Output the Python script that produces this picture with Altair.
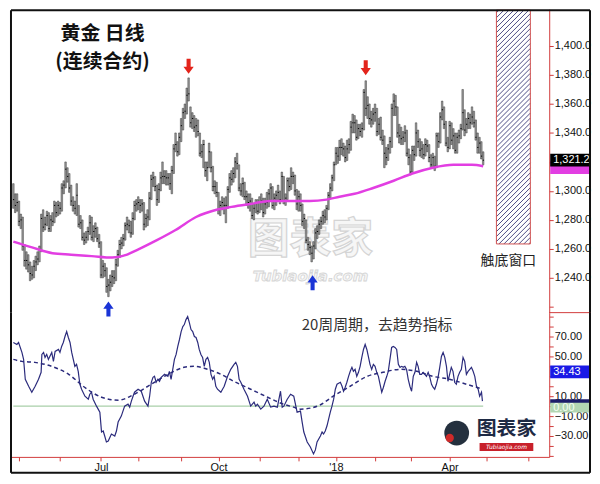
import altair as alt
import pandas as pd

# ---------------- data ----------------
# daily bars, Apr 26 2017 .. Apr 26 2018 (index = trading day)
close = [
    1294, 1290, 1292,
    1279, 1280, 1262, 1252, 1252, 1249, 1243, 1242, 1248, 1251, 1253, 1259, 1281, 1275, 1277, 1283, 1274, 1280, 1279, 1290, 1285, 1290,
    1288, 1302, 1304, 1315, 1310, 1302, 1293, 1290, 1288, 1297, 1277, 1278, 1268, 1266, 1268, 1272, 1278, 1268, 1272, 1274, 1267, 1264,
    1242, 1248, 1245, 1234, 1235, 1237, 1241, 1240, 1249, 1256, 1263, 1264, 1267, 1276, 1277, 1276, 1271, 1281, 1290, 1291,
    1292, 1290, 1291, 1277, 1281, 1282, 1295, 1308, 1309, 1303, 1294, 1301, 1309, 1310, 1310, 1309, 1309, 1305, 1314, 1329, 1332, 1327, 1337,
    1345, 1354, 1355, 1366, 1367, 1347, 1350, 1344, 1345, 1341, 1326, 1327, 1332, 1314, 1316, 1327, 1316, 1303, 1303, 1299,
    1287, 1290, 1292, 1290, 1290, 1301, 1309, 1308, 1312, 1320, 1319, 1302, 1300, 1305, 1296, 1296, 1292, 1293, 1283, 1288, 1292, 1286,
    1292, 1293, 1285, 1291, 1292, 1298, 1302, 1290, 1295, 1297, 1299, 1294, 1310, 1293, 1295, 1307, 1303, 1310, 1310, 1300, 1291,
    1296, 1290, 1279, 1281, 1266, 1263, 1261, 1257, 1262, 1271, 1272, 1277, 1279, 1283, 1282, 1288, 1297, 1302, 1309, 1318,
    1326, 1324, 1330, 1330, 1329, 1323, 1329, 1332, 1344, 1347, 1347, 1337, 1343, 1341, 1343, 1368, 1357, 1359, 1350, 1349, 1353,
    1354, 1341, 1346, 1337, 1335, 1326, 1323, 1329, 1334, 1357, 1362, 1358, 1340, 1338, 1336, 1337, 1340, 1326, 1323,
    1313, 1328, 1325, 1340, 1334, 1328, 1329, 1325, 1332, 1331, 1323, 1318, 1323, 1317, 1338, 1334, 1351, 1356, 1346, 1333, 1330,
    1345, 1335, 1338, 1328, 1337, 1338, 1343, 1354, 1342, 1346, 1350, 1347, 1351, 1347, 1337, 1330, 1333, 1324, 1321.2,
]
high = [
    1305, 1298, 1298,
    1293, 1284, 1282, 1263, 1258, 1256, 1251, 1248, 1252, 1255, 1258, 1262, 1284, 1287, 1282, 1286, 1285, 1283, 1285, 1293, 1292, 1293,
    1292, 1305, 1307, 1320, 1316, 1312, 1304, 1296, 1293, 1305, 1290, 1283, 1280, 1271, 1272, 1275, 1283, 1282, 1276, 1278, 1275, 1270,
    1265, 1252, 1250, 1247, 1239, 1242, 1245, 1245, 1253, 1259, 1266, 1268, 1270, 1278, 1282, 1280, 1279, 1285, 1293, 1294,
    1296, 1294, 1294, 1292, 1284, 1287, 1299, 1311, 1313, 1310, 1304, 1305, 1313, 1320, 1314, 1314, 1312, 1312, 1317, 1332, 1340, 1334, 1340,
    1350, 1357, 1360, 1371, 1378, 1358, 1354, 1352, 1350, 1349, 1340, 1332, 1335, 1320, 1320, 1333, 1327, 1317, 1307, 1306,
    1299, 1293, 1296, 1295, 1296, 1303, 1312, 1314, 1316, 1323, 1326, 1318, 1305, 1309, 1306, 1300, 1298, 1298, 1295, 1291, 1294, 1294,
    1296, 1298, 1295, 1295, 1299, 1301, 1305, 1303, 1298, 1300, 1304, 1300, 1313, 1310, 1298, 1309, 1309, 1316, 1313, 1311, 1301,
    1300, 1298, 1291, 1284, 1280, 1268, 1265, 1262, 1265, 1274, 1276, 1280, 1282, 1286, 1287, 1290, 1299, 1305, 1311, 1320,
    1330, 1330, 1335, 1336, 1333, 1331, 1335, 1336, 1348, 1353, 1352, 1349, 1346, 1346, 1347, 1370, 1376, 1365, 1360, 1355, 1357,
    1360, 1357, 1350, 1351, 1342, 1338, 1330, 1332, 1337, 1360, 1367, 1366, 1358, 1346, 1344, 1341, 1345, 1342, 1329,
    1325, 1331, 1331, 1347, 1342, 1336, 1334, 1332, 1336, 1335, 1332, 1325, 1326, 1324, 1340, 1340, 1354, 1362, 1358, 1348, 1337,
    1348, 1347, 1343, 1340, 1340, 1342, 1346, 1370, 1356, 1350, 1354, 1353, 1358, 1355, 1349, 1340, 1337, 1334, 1327,
]
low = [
    1288, 1285, 1286,
    1276, 1274, 1259, 1248, 1246, 1244, 1238, 1239, 1240, 1245, 1249, 1251, 1258, 1272, 1273, 1276, 1272, 1272, 1276, 1278, 1282, 1283,
    1284, 1286, 1298, 1302, 1306, 1299, 1290, 1286, 1284, 1283, 1275, 1274, 1266, 1263, 1264, 1266, 1270, 1266, 1265, 1268, 1265, 1261,
    1240, 1240, 1241, 1230, 1227, 1231, 1234, 1236, 1238, 1248, 1254, 1260, 1262, 1266, 1273, 1271, 1268, 1270, 1280, 1286,
    1287, 1285, 1286, 1273, 1275, 1276, 1280, 1294, 1303, 1300, 1290, 1292, 1300, 1305, 1305, 1304, 1304, 1301, 1298, 1312, 1327, 1324, 1325,
    1334, 1342, 1350, 1353, 1362, 1344, 1343, 1341, 1337, 1338, 1324, 1323, 1316, 1310, 1307, 1316, 1313, 1300, 1298, 1296,
    1284, 1283, 1287, 1284, 1278, 1288, 1299, 1304, 1306, 1309, 1315, 1300, 1297, 1296, 1294, 1290, 1288, 1286, 1281, 1280, 1285, 1284,
    1285, 1287, 1282, 1284, 1288, 1289, 1294, 1288, 1287, 1290, 1293, 1291, 1293, 1291, 1290, 1294, 1300, 1301, 1305, 1297, 1287,
    1286, 1286, 1276, 1274, 1264, 1259, 1256, 1251, 1253, 1260, 1267, 1270, 1274, 1277, 1278, 1280, 1287, 1295, 1300, 1307,
    1318, 1319, 1321, 1325, 1324, 1320, 1321, 1326, 1328, 1340, 1340, 1335, 1336, 1338, 1337, 1342, 1352, 1350, 1346, 1344, 1346,
    1348, 1338, 1339, 1335, 1332, 1316, 1318, 1321, 1326, 1330, 1352, 1352, 1337, 1333, 1332, 1332, 1334, 1324, 1318,
    1311, 1313, 1321, 1324, 1330, 1324, 1323, 1322, 1324, 1327, 1320, 1316, 1316, 1314, 1316, 1330, 1333, 1349, 1343, 1331, 1327,
    1329, 1332, 1329, 1326, 1326, 1333, 1336, 1342, 1338, 1340, 1343, 1343, 1346, 1344, 1335, 1326, 1326, 1322, 1318,
]
assert len(close) == len(high) == len(low) == 253

# magenta moving average (trading-day index, value)
ma_pts = [(0, 1265), (10, 1261), (21, 1257), (31, 1256), (42, 1255), (53, 1254), (61, 1256), (66, 1259),
          (77, 1266), (87, 1273), (98, 1282), (109, 1287), (117, 1289), (127, 1291), (138, 1293), (149, 1293),
          (159, 1293), (168, 1294), (175, 1296), (183, 1298), (193, 1302), (204, 1307), (214, 1312), (225, 1316),
          (236, 1318), (246, 1318), (252, 1317)]

# 20-week cycle detrended oscillator (solid)
osc_pts = [
    (0, 64), (1.9, 62), (2.8, 64), (4.6, 54), (5.5, 47), (6.4, 27), (8.2, 20), (9.9, 14), (11.7, 20), (13.5, 27),
    (14.9, 34), (15.3, 52), (16.2, 54), (17.0, 49), (17.9, 52), (18.8, 47), (20.6, 54), (21.5, 45), (22.4, 55), (24.2, 57),
    (25.0, 54), (25.9, 60), (26.8, 64), (27.7, 70), (28.6, 75), (29.5, 69), (30.4, 64), (31.3, 54), (33.0, 40), (33.9, 42),
    (34.8, 35), (35.7, 22), (36.6, 17), (38.4, 10), (40.2, 7), (41.0, 12), (41.9, 14), (42.8, 7), (44.6, 0), (45.5, -3),
    (46.4, -6), (47.3, -26), (48.2, -25), (49.0, -30), (49.9, -36), (50.9, -35), (52.6, -28), (54.4, -30), (55.3, -25), (56.2, -16),
    (57.9, -10), (59.7, 0), (61.5, 2), (62.4, -1), (63.3, 5), (64.2, 10), (65.0, 14), (66.9, 17), (68.6, 15), (70.4, 5),
    (72.2, 0), (73.1, 10), (74.0, 24), (74.9, 29), (75.7, 30), (76.6, 24), (77.5, 27), (78.4, 25), (79.3, 29), (81.1, 32),
    (82.9, 30), (83.7, 35), (84.6, 27), (85.5, 37), (86.4, 47), (87.3, 52), (88.2, 60), (89.1, 67), (90.0, 75), (90.9, 80),
    (91.7, 82), (92.6, 87), (93.5, 90), (94.4, 84), (95.3, 77), (96.2, 75), (97.1, 70), (98.0, 69), (98.9, 64), (99.7, 57),
    (100.6, 52), (101.5, 49), (102.4, 40), (103.3, 47), (104.2, 49), (105.1, 44), (106.0, 32), (106.9, 27), (107.7, 30), (108.6, 20),
    (109.5, 17), (111.3, 14), (112.2, 17), (113.1, 20), (114.9, 30), (116.6, 37), (118.4, 42), (119.3, 44), (120.2, 40), (121.1, 27),
    (122.0, 24), (123.7, 17), (125.6, 10), (127.3, 0), (129.1, 4), (130.0, 0), (130.9, 2), (132.7, -3), (134.4, 0), (136.2, 7),
    (138.0, -1), (139.8, 0), (141.6, -1), (143.3, 15), (144.2, -1), (145.1, 0), (146.9, 7), (148.7, 12), (150.4, 10), (152.2, -6),
    (154.0, -5), (154.9, -16), (155.8, -26), (157.6, -36), (159.3, -41), (161.0, -48), (162.0, -44), (162.9, -36), (164.7, -30), (165.6, -26),
    (166.4, -28), (167.3, -25), (168.2, -20), (169.1, -13), (170.0, -6), (170.9, 0), (171.8, 7), (172.7, 17), (173.6, 22), (175.4, 24),
    (176.3, 20), (177.1, 15), (178.0, 19), (178.9, 24), (179.8, 30), (180.7, 35), (181.6, 39), (182.4, 35), (183.3, 37), (184.2, 30),
    (185.1, 34), (186.0, 40), (186.9, 49), (187.8, 57), (188.7, 62), (189.6, 57), (190.4, 50), (191.3, 42), (192.2, 37), (193.1, 42),
    (194.0, 40), (194.9, 34), (195.8, 30), (196.7, 22), (197.6, 14), (198.5, 19), (199.4, 25), (200.3, 30), (201.1, 35), (202.0, 47),
    (202.9, 59), (203.8, 60), (204.7, 59), (205.6, 57), (206.5, 42), (207.4, 39), (208.3, 40), (209.1, 39), (210.0, 40), (210.9, 37),
    (211.8, 27), (212.7, 20), (213.6, 15), (214.5, 30), (215.4, 34), (216.3, 44), (217.1, 40), (218.0, 32), (218.9, 32), (219.8, 34),
    (220.7, 32), (221.6, 30), (222.5, 34), (223.4, 29), (224.3, 22), (225.1, 19), (226.0, 17), (226.9, 22), (227.8, 29), (228.7, 39),
    (229.6, 50), (230.5, 54), (231.4, 49), (232.3, 40), (233.1, 25), (234.0, 32), (234.9, 39), (235.8, 35), (236.7, 24), (237.6, 22),
    (238.5, 30), (239.4, 34), (240.3, 37), (241.2, 49), (242.1, 45), (243.0, 32), (243.9, 35), (244.8, 37), (245.7, 39), (246.6, 35),
    (247.5, 30), (248.4, 20), (249.3, 17), (250.1, 10), (251.1, 14), (251.6, 5),
]
# dashed smoothed cycle line
sig_pts = [(0, 47), (4.6, 45), (11.5, 44), (20.6, 40), (29.7, 32), (38.2, 19), (47.3, 9), (56.4, 6), (64.9, 12),
           (73.9, 22), (83.0, 32), (91.6, 39), (96.9, 40), (104.4, 37), (111.3, 32), (118.2, 25), (127.3, 17),
           (136.4, 9), (144.9, 2), (150.3, -1), (154.0, -3), (163.1, 0), (171.6, 10), (180.7, 20), (189.8, 30),
           (198.3, 34), (207.4, 37), (216.4, 35), (225.0, 30), (234.0, 27), (243.1, 22), (248.4, 19), (251.6, 17)]

month_ticks = [3, 25, 47, 67, 90, 110, 132, 153, 173, 194, 213, 234, 254, 276]
month_names = {47: "Jul", 110: "Oct", 173: "'18", 234: "Apr"}
price_ticks = [1220, 1240, 1260, 1280, 1300, 1320, 1340, 1360, 1380, 1400]
price_labeled = [1240, 1260, 1280, 1300, 1340, 1360, 1380, 1400]
osc_ticks = [-50, -40, -30, -20, -10, 0, 10, 20, 30, 40, 50, 60, 70, 80, 90]
osc_labeled = [70, 50, 10, -10, -30]

window_i = (259.1, 277.3)        # "触底窗口" time window (future trading days)
window_p = (1263.4, 1424.7)
red_arrows = [(94, 1386), (189, 1385)]
blue_arrows = [(51, 1218.5), (160.5, 1236.6)]
last_close = 1321.2
last_ma = 1316.0
osc_box_value = 34.43
osc_last = 4.5
zero_box = -1.5

# ---------------- layout / style ----------------
W, H1, H2 = 542, 305, 145
PX_I = 1.874
XDOM = [-1.8, -1.8 + W / PX_I]
YDOM1 = [1216.0, 1425.4]
YDOM2 = [-51.0, 94.0]
RED = "#d23c3c"
MAGENTA = "#e23ee2"
NAVY = "#2b2b7c"
CJK = "Noto Sans CJK SC"
AXF = "Liberation Sans"

xs = alt.Scale(domain=XDOM, nice=False, zero=False)
ys1 = alt.Scale(domain=YDOM1, nice=False, zero=False)
ys2 = alt.Scale(domain=YDOM2, nice=False, zero=False)

axis_style = dict(domainColor=RED, tickColor=RED, tickSize=4, labelPadding=1, labelColor="#111",
                  labelFont=AXF, labelFontSize=11, grid=False, title=None, labelOverlap=False)

yax1 = alt.Axis(orient="right", values=price_ticks,
                labelExpr="indexof(" + str(price_labeled) + ", datum.value) >= 0 ? format(datum.value, ',.1f') : ''",
                **axis_style)
yax2 = alt.Axis(orient="right", values=osc_ticks,
                labelExpr="indexof(" + str(osc_labeled) + ", datum.value) >= 0 ? format(datum.value, '.2f') : ''",
                **axis_style)
xexpr = ""
for k, v in month_names.items():
    xexpr += "datum.value == %d ? \"%s\" : " % (k, v)
xexpr += "''"
xax = alt.Axis(orient="bottom", values=month_ticks, labelExpr=xexpr, labelFlush=False, **axis_style)

# every layer of a panel carries the same scale and axis definitions
X1 = lambda f: alt.X(f, scale=xs, axis=None)
Y1 = lambda f: alt.Y(f, scale=ys1, axis=yax1)
X2 = lambda f: alt.X(f, scale=xs, axis=xax)
Y2 = lambda f: alt.Y(f, scale=ys2, axis=yax2)


def txt(s, x, y, **kw):
    return alt.Chart(pd.DataFrame({"t": [s]})).mark_text(**kw).encode(
        x=alt.value(x), y=alt.value(y), text="t:N")


def rule_px(x, x2, y, y2, **kw):
    return alt.Chart(pd.DataFrame({"a": [0]})).mark_rule(**kw).encode(
        x=alt.value(x), x2=alt.value(x2), y=alt.value(y), y2=alt.value(y2))


# ---------------- top panel ----------------
bars = pd.DataFrame({"i": list(range(len(close))), "hi": high, "lo": low, "cl": close})
ma_df = pd.DataFrame(ma_pts, columns=["i", "v"])

px_p = H1 / (YDOM1[1] - YDOM1[0])
w_px = (window_i[1] - window_i[0]) * PX_I
h_px = (window_p[1] - window_p[0]) * px_p
hatch = []
c = -h_px + 2.5
while c < w_px:
    x0, x1 = max(0.0, c), min(w_px, c + h_px)
    hatch.append({"a": window_i[0] + x0 / PX_I, "b": window_p[0] + (x0 - c) / px_p,
                  "a2": window_i[0] + x1 / PX_I, "b2": window_p[0] + (x1 - c) / px_p})
    c += 5.0
hatch_df = pd.DataFrame(hatch)
win_df = pd.DataFrame({"a": [window_i[0]], "a2": [window_i[1]], "b": [window_p[0]], "b2": [window_p[1]]})

wm1 = txt("图表家", 302, 232, font=CJK, fontSize=42, fontWeight="bold", fill="#f6f6f6", stroke="#d4d4d4", strokeWidth=1.2)
wm2 = txt("Tubiaojia.com", 302, 268, font="DejaVu Sans", fontSize=15, fontWeight="bold", fontStyle="italic",
          fill="#f6f6f6", stroke="#d4d4d4", strokeWidth=0.8)

win_fill = alt.Chart(win_df).mark_rect(fill="white").encode(x=X1("a:Q"), x2="a2:Q", y=Y1("b:Q"), y2="b2:Q")
hatch_l = alt.Chart(hatch_df).mark_rule(color="#3a3a78", strokeWidth=0.9).encode(
    x=X1("a:Q"), x2="a2:Q", y=Y1("b:Q"), y2="b2:Q")
win_border = alt.Chart(win_df).mark_rect(fillOpacity=0, stroke="#d05050", strokeWidth=1).encode(
    x=X1("a:Q"), x2="a2:Q", y=Y1("b:Q"), y2="b2:Q")

ohlc = alt.Chart(bars).transform_calculate(i0="datum.i - 0.42", i1="datum.i + 0.42").mark_rect(
    fill="#9c9c9c", stroke="#2e2e2e", strokeWidth=0.45).encode(
    x=X1("i0:Q"), x2="i1:Q", y=Y1("lo:Q"), y2="hi:Q")
ctick = alt.Chart(bars).transform_calculate(i0="datum.i - 0.2", i2="datum.i + 0.45").mark_rule(
    color="#000", strokeWidth=1).encode(x=X1("i0:Q"), x2="i2:Q", y=Y1("cl:Q"))
ma_line = alt.Chart(ma_df).mark_line(color=MAGENTA, strokeWidth=2.5, interpolate="monotone").encode(
    x=X1("i:Q"), y=Y1("v:Q"))

DOWN = "M-0.27,-1L0.27,-1L0.27,0.05L0.68,0.05L0,1L-0.68,0.05L-0.27,0.05Z"
UP = "M-0.27,1L0.27,1L0.27,-0.05L0.68,-0.05L0,-1L-0.68,-0.05L-0.27,-0.05Z"
red_ar = alt.Chart(pd.DataFrame(red_arrows, columns=["i", "v"])).mark_point(
    shape=DOWN, filled=True, color="#e3241b", size=230, opacity=1, strokeWidth=0).encode(x=X1("i:Q"), y=Y1("v:Q"))
blue_ar = alt.Chart(pd.DataFrame(blue_arrows, columns=["i", "v"])).mark_point(
    shape=UP, filled=True, color="#1a34d6", size=230, opacity=1, strokeWidth=0).encode(x=X1("i:Q"), y=Y1("v:Q"))

title1 = txt("黄金 日线", 93, 25, font=CJK, fontSize=20, fontWeight="bold", color="#111")
title2 = txt("(连续合约)", 93, 53, font=CJK, fontSize=20, fontWeight="bold", color="#111")
win_lab = txt("触底窗口", 501, 253, font=CJK, fontSize=14, color="#222")


def value_box(v, label, fill, tcolor, half, Yenc):
    df = pd.DataFrame({"v": [v], "lab": [label]})
    base = alt.Chart(df).transform_calculate(b0="datum.v - %f" % half, b1="datum.v + %f" % half)
    out = [base.mark_rect(fill=fill).encode(x=alt.value(W + 1), x2=alt.value(W + 41),
                                            y=Yenc("b0:Q"), y2="b1:Q")]
    if label:
        out.append(alt.Chart(df).mark_text(align="left", color=tcolor, font=AXF, fontSize=11).encode(
            x=alt.value(W + 4), y=Yenc("v:Q"), text="lab:N"))
    return out


box_ma = value_box(last_ma, "", MAGENTA, "white", 4.4, Y1)
box_cl = value_box(last_close, "1,321.2", "#000", "white", 4.4, Y1)

sep = rule_px(W, W + 42, H1, H1, color=RED, strokeWidth=1)
# outer frame: top part (top, left, right edges)
fr_top = rule_px(1, W + 41, 1, 1, color="#111", strokeWidth=2)
fr_l1 = rule_px(1, 1, 1, H1, color="#111", strokeWidth=2)
fr_r1 = rule_px(W + 41, W + 41, 1, H1, color="#111", strokeWidth=2)

top = alt.layer(wm1, wm2, win_fill, hatch_l, win_border, ohlc, ctick, ma_line, red_ar, blue_ar,
                title1, title2, win_lab, *box_ma, *box_cl, sep, fr_top, fr_l1, fr_r1).properties(width=W, height=H1)

# ---------------- bottom panel ----------------
osc_df = pd.DataFrame(osc_pts, columns=["t", "v"])
sig_df = pd.DataFrame(sig_pts, columns=["t", "v"])
zero = alt.Chart(pd.DataFrame({"a": [0], "a2": [252], "z": [0]})).mark_rule(color="#a9cfa9", strokeWidth=1.2).encode(
    x=X2("a:Q"), x2="a2:Q", y=Y2("z:Q"))
osc_line = alt.Chart(osc_df).mark_line(color=NAVY, strokeWidth=1.2).encode(x=X2("t:Q"), y=Y2("v:Q"))
sig_line = alt.Chart(sig_df).mark_line(color=NAVY, strokeWidth=1.5, strokeDash=[4, 3], interpolate="monotone").encode(
    x=X2("t:Q"), y=Y2("v:Q"))
osc_lab = txt("20周周期，去趋势指标", 369, 12, font=CJK, fontSize=15, color="#333")

box_blue = value_box(osc_box_value, "34.43", "#1a1ae6", "white", 6.5, Y2)
box_navy = value_box(osc_last, "", "#1c1c6a", "white", 2.5, Y2)
box_zero = value_box(zero_box, "0.00", "#b2d6b2", "#f4fff4", 5.0, Y2)

logo_head = alt.Chart(pd.DataFrame({"a": [0]})).mark_point(filled=True, shape="circle", color="#24303e", size=620, opacity=1).encode(
    x=alt.value(449), y=alt.value(121))
logo_ear = alt.Chart(pd.DataFrame({"a": [0]})).mark_point(filled=True, shape="circle", color="#cf2a2a", size=70, opacity=1).encode(
    x=alt.value(442), y=alt.value(126))
logo_txt = txt("图表家", 499, 117, font=CJK, fontSize=20, fontWeight="bold", color="#1e2a44")
logo_band = alt.Chart(pd.DataFrame({"a": [0]})).mark_rect(fill="#c8202a").encode(
    x=alt.value(472), x2=alt.value(526), y=alt.value(131), y2=alt.value(139))
logo_small = txt("Tubiaojia.com", 499, 135.5, font="DejaVu Sans", fontSize=6, fontStyle="italic", color="white")

# outer frame: bottom part
FB = H2 + 16
fr_l2 = rule_px(1, 1, 0, FB, color="#111", strokeWidth=2)
fr_r2 = rule_px(W + 41, W + 41, 0, FB, color="#111", strokeWidth=2)
fr_bot = rule_px(1, W + 41, FB, FB, color="#111", strokeWidth=2)

bottom = alt.layer(zero, sig_line, osc_line, osc_lab, *box_blue, *box_navy, *box_zero,
                   logo_head, logo_ear, logo_txt, logo_band, logo_small,
                   fr_l2, fr_r2, fr_bot).properties(width=W, height=H2)

chart = alt.vconcat(top, bottom, spacing=0, bounds="flush").resolve_scale(
    x="independent", y="independent").properties(padding=0, background="white").configure_view(stroke=None)

chart.save("out.html", embed_options={"renderer": "svg", "actions": False})
